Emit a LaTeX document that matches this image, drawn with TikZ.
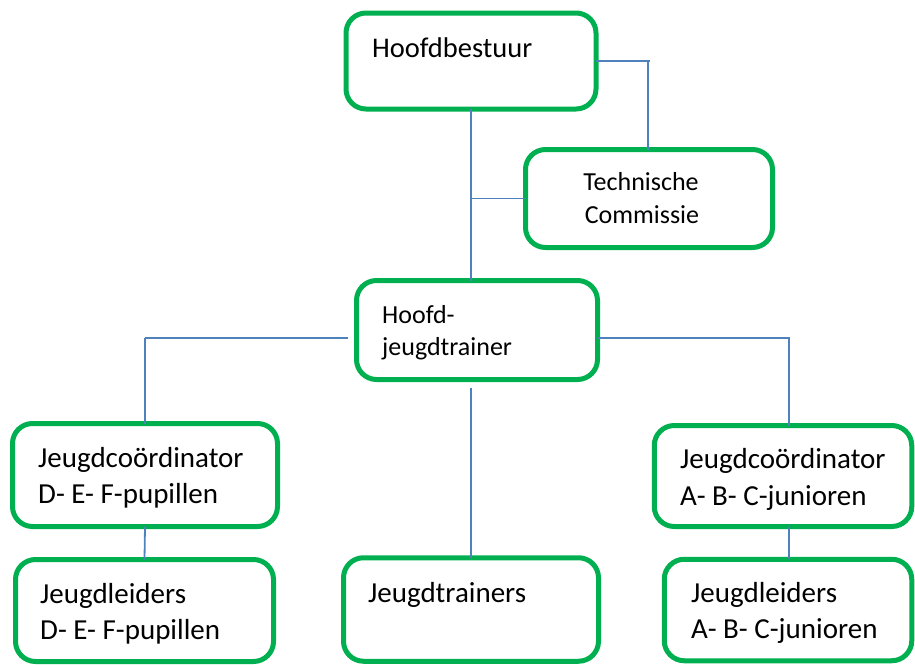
\documentclass[tikz,border=0pt]{standalone}
\usepackage{fontspec}
\setmainfont{Carlito}
\definecolor{boxgreen}{HTML}{00B050}
\definecolor{linkblue}{HTML}{4F81BD}
\begin{document}
\begin{tikzpicture}[x=1pt,y=-1pt,
  box/.style={draw=boxgreen, line width=5pt, rounded corners=20pt, rectangle, inner sep=0pt, outer sep=0pt},
  conn/.style={draw=linkblue, line width=1.8pt},
  lbl/.style={anchor=base west, inner sep=0pt, font=\fontsize{29}{35}\selectfont},
  lblsmall/.style={inner sep=0pt, font=\fontsize{26}{31}\selectfont}]
\useasboundingbox (0,0) rectangle (915,664);
% boxes
\node[box, minimum width=250pt, minimum height=96pt] (hb) at (471,61) {};
\node[box, minimum width=247pt, minimum height=98pt] (tc) at (649,198.5) {};
\node[box, minimum width=241pt, minimum height=99pt] (hj) at (477,330) {};
\node[box, minimum width=265pt, minimum height=103pt] (jcl) at (145,475) {};
\node[box, minimum width=258pt, minimum height=102pt] (jll) at (144.5,610.5) {};
\node[box, minimum width=255pt, minimum height=103.5pt] (jt) at (471,609.5) {};
\node[box, minimum width=257.5pt, minimum height=101pt] (jcr) at (783,476) {};
\node[box, minimum width=247.5pt, minimum height=101.5pt] (jlr) at (788,610) {};
% texts
\node[lbl, font=\fontsize{28.5}{34}\selectfont] (thb) at (372,57) {Hoofdbestuur};
\node[lblsmall, anchor=base] (ttc1) at (641,190) {Technische};
\node[lblsmall, anchor=base] (ttc2) at (642,223) {Commissie};
\node[lblsmall, anchor=base west] (thj1) at (382,323) {Hoofd-};
\node[lblsmall, anchor=base west] (thj2) at (382,355) {jeugdtrainer};
\node[lbl] (tjcl1) at (38,467) {Jeugdcoördinator};
\node[lbl] (tjcl2) at (38,503) {D- E- F-pupillen};
\node[lbl] (tjll1) at (40,603) {Jeugdleiders};
\node[lbl] (tjll2) at (40,639) {D- E- F-pupillen};
\node[lbl] (tjt) at (368,602) {Jeugdtrainers};
\node[lbl] (tjcr1) at (680,468) {Jeugdcoördinator};
\node[lbl] (tjcr2) at (680,505) {A- B- C-junioren};
\node[lbl] (tjlr1) at (691,602) {Jeugdleiders};
\node[lbl] (tjlr2) at (691,638) {A- B- C-junioren};
% connectors
\coordinate (tcTop) at (648,61);
\coordinate (lb) at (145,338);
\coordinate (rb) at (789,338);
\draw[conn] (hb.south) -- (hb.south |- hj.north);
\draw[conn] (hb.south |- tc.west) -- (tc.west);
\draw[conn] (hb.east) -- ++(4+648-598,0);
\draw[conn] (tcTop) -- (tcTop |- tc.north);
\draw[conn] (lb) -- ([xshift=-9pt]lb -| hj.west);
\draw[conn] (lb) -- (lb |- jcl.north);
\draw[conn] (rb -| hj.east) -- (rb) -- (rb |- jcr.north);
\draw[conn, shorten <=8pt] (jt.north |- hj.south) -- (jt.north);
\draw[conn] (jcl.south) -- (jll.north);
\draw[conn] (jcr.south -| rb) -- (jlr.north -| rb);
\end{tikzpicture}
\end{document}
